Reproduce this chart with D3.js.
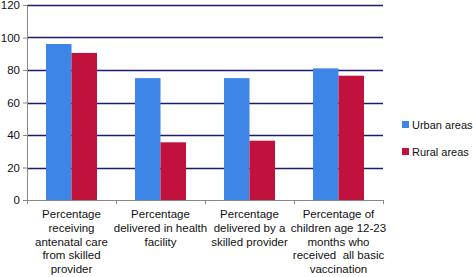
<!DOCTYPE html>
<html>
<head>
<meta charset="utf-8">
<script src="https://cdn.jsdelivr.net/npm/d3@7"></script>
<style>
  body { margin: 0; background: #fff; }
  text { font-family: "Liberation Sans", Arial, sans-serif; fill: #111; white-space: pre; }
</style>
</head>
<body>
<div id="chart"></div>
<script>
const categories = [
  ["Percentage", "receiving", "antenatal care", "from skilled", "provider"],
  ["Percentage", "delivered in health", "facility"],
  ["Percentage", "delivered by a", "skilled provider"],
  ["Percentage of", "children age 12-23", "months who", "received  all basic", "vaccination"]
];
const seriesNames = ["Urban areas", "Rural areas"];
const urban = [96, 75, 75, 81];
const rural = [90.5, 35.5, 36.5, 76.5];
const yTicks = [0, 20, 40, 60, 80, 100, 120];
const colors = ["#3d85e6", "#c0123d"];

(function () {
  const width = 473, height = 277;
  const margin = { top: 5, right: 90, bottom: 77, left: 27 };
  const innerWidth = width - margin.left - margin.right;
  const innerHeight = height - margin.top - margin.bottom;

  const svg = d3.select("#chart").append("svg")
    .attr("width", width).attr("height", height);
  const g = svg.append("g").attr("transform", `translate(${margin.left},${margin.top})`);

  const idx = categories.map((d, i) => i);
  const x = d3.scaleBand().domain(idx).range([0, innerWidth]).paddingInner(0).paddingOuter(0);
  const x1 = d3.scaleBand().domain([0, 1]).range([19, x.bandwidth() - 19]);
  const y = d3.scaleLinear().domain([0, 120]).range([innerHeight, 0]);

  // gridlines
  g.selectAll(".grid").data(yTicks.filter(t => t > 0)).join("line")
    .attr("x1", 0).attr("x2", innerWidth)
    .attr("y1", d => Math.round(y(d)) + 0.5).attr("y2", d => Math.round(y(d)) + 0.5)
    .attr("stroke", "#1c1c6b").attr("stroke-width", 1.5);

  // bars
  const groups = g.selectAll(".cat").data(idx).join("g")
    .attr("transform", d => `translate(${x(d)},0)`);
  groups.selectAll("rect").data(i => [urban[i], rural[i]].map((v, s) => ({ v, s }))).join("rect")
    .attr("x", d => x1(d.s)).attr("width", x1.bandwidth())
    .attr("y", d => y(d.v)).attr("height", d => innerHeight - y(d.v))
    .attr("fill", d => colors[d.s]);

  // y axis
  const yAxis = g.append("g").call(d3.axisLeft(y).tickValues(yTicks).tickSize(4).tickPadding(3));
  yAxis.selectAll("line, path").attr("stroke", "#888");
  yAxis.selectAll("text").attr("font-size", 11.5).style("font-family", '"Liberation Sans", Arial, sans-serif').attr("fill", "#111");

  // x axis
  const xAxis = g.append("g").attr("transform", `translate(0,${innerHeight})`)
    .call(d3.axisBottom(d3.scaleLinear().domain([0, 4]).range([0, innerWidth]))
      .tickValues([0, 1, 2, 3, 4]).tickSize(4).tickFormat(""));
  xAxis.selectAll("line, path").attr("stroke", "#888");

  // category labels
  idx.forEach(i => {
    const t = g.append("text")
      .attr("x", x(i) + x.bandwidth() / 2)
      .attr("y", innerHeight + 18)
      .attr("text-anchor", "middle")
      .attr("font-size", 11.5);
    categories[i].forEach((line, k) => {
      t.append("tspan").attr("x", x(i) + x.bandwidth() / 2)
        .attr("dy", k === 0 ? 0 : 13.8).text(line);
    });
  });

  // legend
  const legend = svg.append("g").attr("transform", "translate(402,121)");
  seriesNames.forEach((name, s) => {
    legend.append("rect").attr("x", 0).attr("y", s * 27).attr("width", 7).attr("height", 7)
      .attr("fill", colors[s]);
    legend.append("text").attr("x", 10).attr("y", s * 27 + 7.5)
      .attr("font-size", 11).text(name);
  });
})();
</script>
</body>
</html>
